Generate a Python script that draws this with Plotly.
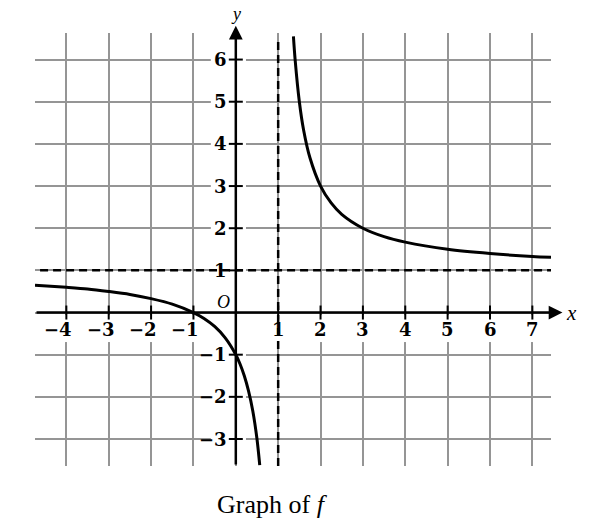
import plotly.graph_objects as go

# ---- data ----
left_x = [-4.74, -4, -3.5, -3, -2.5, -2, -1.5, -1, -0.75, -0.5, -0.25, 0, 0.1, 0.2, 0.3, 0.4, 0.5, 0.565]
left_y = [0.65, 0.60, 0.56, 0.50, 0.43, 0.33, 0.20, 0.00, -0.14, -0.33, -0.60, -1.00, -1.22, -1.50, -1.86, -2.33, -3.00, -3.62]
right_x = [1.36, 1.4, 1.5, 1.6, 1.75, 2, 2.25, 2.5, 3, 3.5, 4, 5, 6, 7, 7.44]
right_y = [6.55, 6.00, 5.00, 4.33, 3.67, 3.00, 2.60, 2.33, 2.00, 1.80, 1.67, 1.50, 1.40, 1.33, 1.31]
vertical_asymptote = 1
horizontal_asymptote = 1
x_ticks = [-4, -3, -2, -1, 1, 2, 3, 4, 5, 6, 7]
y_ticks = [-3, -2, -1, 1, 2, 3, 4, 5, 6]
x_range = [-4.74, 7.44]
y_range = [-3.64, 6.63]
title_text = "Graph of <i>f</i>"

def lab(v):
    return ("\u2212" + str(-v)) if v < 0 else str(v)

fig = go.Figure()

dash_style = dict(color="black", width=2.5, dash="8px,5px")
# asymptotes
fig.add_trace(go.Scatter(x=[vertical_asymptote, vertical_asymptote], y=[y_range[0], 6.46],
                         mode="lines", line=dash_style, hoverinfo="skip", showlegend=False))
fig.add_trace(go.Scatter(x=[-4.62, x_range[1]], y=[horizontal_asymptote, horizontal_asymptote],
                         mode="lines", line=dash_style, hoverinfo="skip", showlegend=False))

# curve branches
for xs, ys in [(left_x, left_y), (right_x, right_y)]:
    fig.add_trace(go.Scatter(x=xs, y=ys, mode="lines",
                             line=dict(color="black", width=3, shape="spline", smoothing=0.8),
                             hoverinfo="skip", showlegend=False))

# tick marks
fig.add_trace(go.Scatter(x=x_ticks, y=[0] * len(x_ticks), mode="markers",
                         marker=dict(symbol="line-ns", size=10, line=dict(color="black", width=2)),
                         hoverinfo="skip", showlegend=False))
fig.add_trace(go.Scatter(x=[0] * len(y_ticks), y=y_ticks, mode="markers",
                         marker=dict(symbol="line-ew", size=10, line=dict(color="black", width=2)),
                         hoverinfo="skip", showlegend=False))

shapes = []
# white gaps in the grid behind the tick labels
for v in x_ticks:
    shapes.append(dict(type="rect", xref="x", yref="y", x0=v - 0.2, x1=v + 0.2, y0=-0.7, y1=-0.06,
                       fillcolor="white", line=dict(width=0), layer="between"))
for v in y_ticks:
    shapes.append(dict(type="rect", xref="x", yref="y", x0=-0.59, x1=0.24, y0=v - 0.2, y1=v + 0.2,
                       fillcolor="white", line=dict(width=0), layer="between"))

annotations = []
tick_font = dict(family="DejaVu Serif", size=18, color="black", weight="bold")
for v in x_ticks:
    annotations.append(dict(x=v, y=-0.41, xref="x", yref="y", text=lab(v), showarrow=False,
                            xanchor="center", yanchor="middle", xshift=-8 if v < 0 else 0,
                            font=tick_font))
for v in y_ticks:
    annotations.append(dict(x=0, y=v, xref="x", yref="y", text=lab(v), showarrow=False,
                            xanchor="right", yanchor="middle", xshift=-7, font=tick_font))

# axes with arrows
annotations.append(dict(x=7.71, y=0, ax=x_range[0], ay=0, xref="x", yref="y", axref="x", ayref="y",
                        text="", showarrow=True, arrowhead=2, arrowsize=1.1, arrowwidth=2.5,
                        arrowcolor="black", standoff=0))
annotations.append(dict(x=0, y=6.80, ax=0, ay=y_range[0], xref="x", yref="y", axref="x", ayref="y",
                        text="", showarrow=True, arrowhead=2, arrowsize=1.1, arrowwidth=2.5,
                        arrowcolor="black", standoff=0))

ital = dict(family="Liberation Serif", size=21, color="black", style="italic")
annotations.append(dict(x=1.04, y=0.353, xref="paper", yref="paper", text="x", showarrow=False,
                        xanchor="center", yanchor="middle", font=ital))
annotations.append(dict(x=0.39, y=1.044, xref="paper", yref="paper", text="y", showarrow=False,
                        xanchor="center", yanchor="middle",
                        font=dict(family="Liberation Serif", size=18, color="black", style="italic")))
annotations.append(dict(x=-0.28, y=0.26, xref="x", yref="y", text="O", showarrow=False,
                        xanchor="center", yanchor="middle",
                        font=dict(family="Liberation Serif", size=18, color="black", style="italic")))
annotations.append(dict(x=0.461, y=-0.09, xref="paper", yref="paper", text=title_text, showarrow=False,
                        xanchor="center", yanchor="middle",
                        font=dict(family="Liberation Serif", size=26, color="black")))

axis_common = dict(showgrid=True, gridcolor="#959595", gridwidth=1.5, zeroline=False,
                   showticklabels=False, showline=False, ticks="", dtick=1, tick0=0, fixedrange=True)

fig.update_layout(
    width=592, height=531,
    margin=dict(l=35, r=41, t=33, b=65, pad=0),
    plot_bgcolor="white", paper_bgcolor="white",
    xaxis=dict(range=x_range, **axis_common),
    yaxis=dict(range=y_range, **axis_common),
    shapes=shapes, annotations=annotations, showlegend=False,
)

fig.write_html("out.html", config={"displayModeBar": False},
               post_script="document.body.style.margin='0';document.body.style.overflow='hidden';")
